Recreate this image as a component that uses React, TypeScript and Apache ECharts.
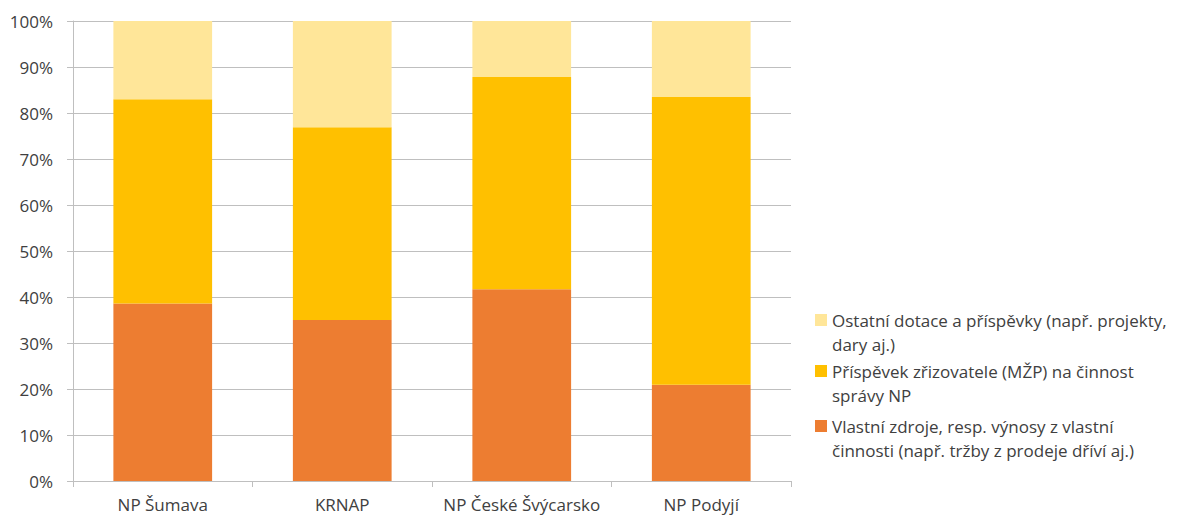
import React, { useEffect, useRef } from "react";
import * as echarts from "echarts";

const categories = ["NP Šumava", "KRNAP", "NP České Švýcarsko", "NP Podyjí"];
const seriesNames = [
  "Vlastní zdroje, resp. výnosy z vlastní činnosti (např. tržby z prodeje dříví aj.)",
  "Příspěvek zřizovatele (MŽP) na činnost správy NP",
  "Ostatní dotace a příspěvky (např. projekty, dary aj.)",
];
const legendLines = [
  ["Vlastní zdroje, resp. výnosy z vlastní", "činnosti (např. tržby z prodeje dříví aj.)"],
  ["Příspěvek zřizovatele (MŽP) na činnost", "správy NP"],
  ["Ostatní dotace a příspěvky (např. projekty,", "dary aj.)"],
];
const vlastniZdroje = [38.6, 35.0, 41.7, 20.9];
const prispevekMZP = [44.4, 41.9, 46.1, 62.6];
const ostatniDotace = [17.0, 23.1, 12.2, 16.5];
const yTicks = [0, 10, 20, 30, 40, 50, 60, 70, 80, 90, 100];

const colors = ["#ED7D31", "#FFC000", "#FFE699"];
const FONT = "Open Sans";
const TEXT = "#404040";
const FS = 17;

export default function App() {
  const ref = useRef<HTMLDivElement>(null);
  useEffect(() => {
    if (!ref.current) return;
    const chart = echarts.init(ref.current, null, { renderer: "svg" });
    const values = [vlastniZdroje, prispevekMZP, ostatniDotace];
    const legendCenters = [426, 371, 320];
    chart.setOption({
      animation: false,
      textStyle: { fontFamily: FONT },
      grid: { left: 73, top: 21, right: 397, bottom: 35, containLabel: false },
      xAxis: {
        type: "category",
        data: categories,
        axisLine: { lineStyle: { color: "#BFBFBF", width: 1 } },
        axisTick: { show: true, length: 6, lineStyle: { color: "#BFBFBF" } },
        axisLabel: { color: TEXT, fontSize: FS, fontFamily: FONT, margin: 15, interval: 0 },
      },
      yAxis: {
        type: "value",
        min: 0,
        max: 100,
        interval: 10,
        axisLine: { show: true, lineStyle: { color: "#BFBFBF", width: 1 } },
        axisTick: { show: true, length: 6, lineStyle: { color: "#BFBFBF" } },
        splitLine: { lineStyle: { color: "#BFBFBF", width: 1 } },
        axisLabel: {
          color: TEXT,
          fontSize: FS,
          fontFamily: FONT,
          margin: 20,
          formatter: (v: number) => (yTicks.includes(v) ? v + "%" : ""),
        },
      },
      legend: seriesNames.map((name, i) => ({
        data: [name],
        left: 815,
        top: legendCenters[i] - 36,
        padding: 0,
        icon: "rect",
        itemWidth: 12,
        itemHeight: 12,
        selectedMode: false,
        formatter: () => "\n" + legendLines[i].join("\n"),
        textStyle: {
          color: TEXT,
          fontSize: FS,
          fontFamily: FONT,
          lineHeight: 24,
        },
      })),
      series: seriesNames.map((name, i) => ({
        name,
        type: "bar",
        stack: "total",
        data: values[i],
        barCategoryGap: "45%",
        itemStyle: { color: colors[i] },
        emphasis: { disabled: true },
      })),
    });
    return () => chart.dispose();
  }, []);
  return (
    <div
      ref={ref}
      style={{ position: "absolute", left: 0, top: 0, width: 1188, height: 516 }}
    />
  );
}
